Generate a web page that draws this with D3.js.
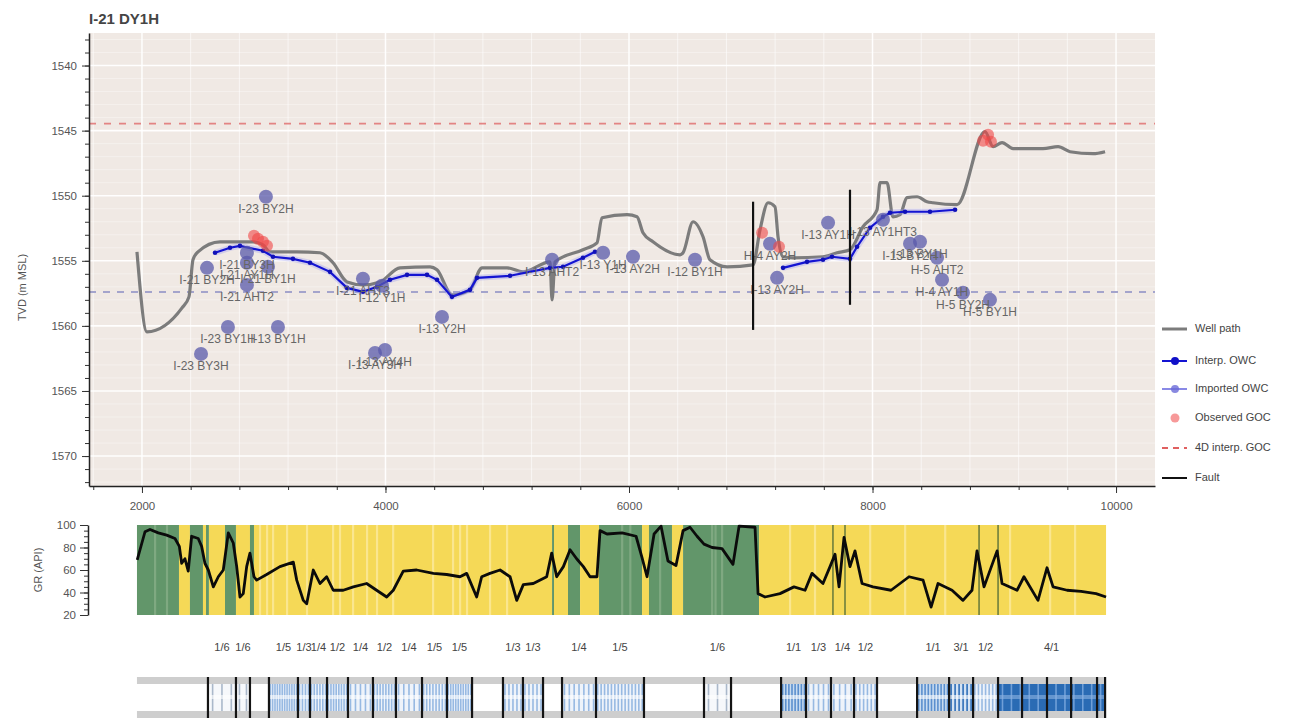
<!DOCTYPE html>
<html>
<head>
<meta charset="UTF-8">
<title>I-21 DY1H</title>
<script src="https://d3js.org/d3.v7.min.js"></script>
<style>
  body { margin: 0; background: #fff; font-family: "Liberation Sans", Arial, sans-serif; }
  svg { display: block; }
  .axis text { fill: #555; font-size: 11.5px; font-family: "Liberation Sans", Arial, sans-serif; }
  .axis line { stroke: #333; }
  .axis path { stroke: #222; stroke-width: 1.5; }
</style>
</head>
<body>
<svg id="chart" width="1294" height="718"></svg>
<script>
// ---- well path (MD vs TVD) ----
const wellMd = [1959,2041,2329,2386,2419,2460,2641,2912,2994,3051,3273,3462,3569,3684,3815,3955,4119,4366,4423,4546,
  4694,4793,4998,5129,5351,5368,5392,5622,5737,5778,5984,6066,6115,6197,6419,6444,6526,6608,6665,6805,
  7019,7076,7142,7199,7224,7265,7347,7593,7708,7815,7922,8037,8062,8119,8168,8226,8283,8366,8448,8497,
  8694,8924,8990,9064,9154,9400,9524,9622,9811,9910];
const wellTvd = [1554.31,1560.46,1558.62,1557.77,1554.92,1554.31,1553.54,1553.54,1553.77,1554.31,1554.31,1554.38,1555.15,1556.62,1556.85,1556.62,1555.54,1555.46,1555.69,1557.62,
  1557.23,1555.54,1555.54,1555.85,1555.08,1558.0,1555.08,1554.15,1553.62,1551.69,1551.46,1551.62,1552.85,1553.54,1554.54,1554.38,1552.0,1553.15,1554.92,1555.46,
  1555.31,1552.62,1550.54,1550.85,1553.15,1554.69,1554.77,1554.69,1554.38,1554.15,1552.38,1551.08,1549.0,1549.0,1551.62,1551.46,1550.15,1550.08,1550.46,1550.54,
  1550.69,1545.08,1546.23,1545.92,1546.38,1546.38,1546.23,1546.62,1546.77,1546.62];

// ---- interpreted OWC, two pieces (either side of the faults) ----
const owcMdA = [2600,2723,2805,2994,3076,3240,3380,3544,3684,3815,3930,4037,4177,4341,4423,4546,4694,4752,5023,5351,5458,5622,5721];
const owcTvdA = [1554.38,1554.0,1553.85,1554.23,1554.69,1554.85,1555.15,1555.85,1557.08,1557.38,1557.0,1556.46,1556.08,1556.08,1556.46,1557.77,1557.23,1556.31,1556.15,1555.54,1555.46,1554.77,1554.31];
const owcMdB = [7265,7462,7593,7667,7815,7873,7980,8086,8144,8267,8472,8678];
const owcTvdB = [1555.54,1555.08,1554.92,1554.69,1554.85,1553.92,1552.46,1551.62,1551.31,1551.23,1551.23,1551.08];

// ---- observed GOC ----
const gocMd = [2920,2953,2994,3027,7093,7232,8908,8949,8973];
const gocTvd = [1553.08,1553.31,1553.54,1553.85,1552.85,1553.92,1545.77,1545.31,1545.85];

// ---- imported OWC from offset wells ----
const wellNames = ["I-23 BY2H","I-21 BY2H","I-21 BY3H","I-21 AY1H","I-21 BY1H","I-21 AHT2","I-23 BY1H","I-13 BY1H","I-23 BY3H","I-13 AY3H",
  "I-13 AY4H","I-21 AHT3","I-12 Y1H","I-13 Y2H","I-13 AHT2","I-13 Y1H","I-13 AY2H","I-12 BY1H","H-4 AY2H","I-13 AY2H",
  "I-13 AY1H","I-13 AY1HT3","I-13 BY2H","I-13 BY1H","H-5 AHT2","H-4 AY1H","H-5 BY2H","H-5 BY1H"];
const wellPtMd = [3018,2534,2862,2862,3035,2862,2706,3117,2485,3914,3996,3815,3971,4464,5368,5787,6033,6542,7158,7216,7635,8086,8308,8390,8530,8571,8743,8965];
const wellPtTvd = [1550.08,1555.54,1554.38,1555.15,1555.46,1556.85,1560.08,1560.08,1562.15,1562.08,1561.85,1556.38,1556.92,1559.31,1554.92,1554.38,1554.69,1554.92,1553.69,1556.31,
  1552.08,1551.85,1553.69,1553.54,1554.77,1556.46,1557.46,1558.0];

// ---- faults and flat contacts ----
const faultMd = [7019, 7815];
const faultTop = [1550.46, 1549.54];
const faultBase = [1560.31, 1558.38];
const goc4d = 1544.46;
const owcRef = 1557.4;

// ---- gamma ray log ----
const grMd = [1961,1984,2025,2066,2134,2203,2271,2307,2326,2353,2380,2408,2462,2490,2517,2545,2586,2627,2668,2709,
  2750,2778,2805,2832,2860,2887,2920,2942,3024,3133,3243,3271,3325,3353,3407,3462,3517,3571,3653,3736,
  3845,3927,4010,4064,4146,4256,4393,4503,4612,4667,4749,4790,4858,4941,5023,5078,5132,5214,5324,5365,
  5406,5461,5516,5570,5625,5680,5737,5762,5819,5943,6058,6107,6148,6206,6263,6320,6386,6444,6501,6559,
  6616,6682,6764,6854,6904,7035,7060,7117,7240,7355,7446,7503,7593,7651,7692,7725,7766,7815,7856,7914,
  8004,8152,8300,8415,8481,8538,8653,8743,8817,8858,8916,9023,9064,9187,9244,9359,9433,9483,9598,9713,9836,9918];
const grVal = [69,78,94,96,93,91,88,81,66,70,59,90,88,81,66,60,45,54,60,93,
  84,63,36,39,63,75,54,51,56,63,67,51,33,30,60,48,54,42,42,45,
  48,42,36,42,59,60,57,56,54,57,36,54,57,60,54,33,47,48,54,75,
  54,63,78,70,63,54,54,95,92,93,90,71,54,92,99,68,64,95,98,90,
  83,80,79,65,99,98,39,36,39,45,42,57,48,63,74,45,89,63,77,48,
  45,42,54,51,27,48,42,33,42,77,45,77,48,42,54,33,62,45,42,41,39,36];

// ---- facies bands behind the GR log (G = shale, Y = sand) ----
const faciesTop = [1959,2304,2394,2501,2526,2550,2682,2772,2887,2920,5368,5384,5499,5598,5754,6107,6164,6353,6444,7068];
const faciesBase = [2304,2394,2501,2526,2550,2682,2772,2887,2920,5368,5384,5499,5598,5754,6107,6164,6353,6444,7068,9918];
const faciesCode = ["G","Y","G","Y","G","Y","G","Y","G","Y","G","Y","G","Y","G","Y","G","Y","G","Y"];
const sandStreaks = [2969,3027,3076,3191,3355,3569,3626,3733,3848,3930,4062,4390,4554,4612,4669,4858,4998,7322,7527,7980,8267,8596,9129,9458,9663];
const shaleStreaks = [2107,2205,5943,6010,6255,6682,6710,6764];
const thinBeds = [7675,7774,8875,9031];

// ---- completion strip ----
const segStart = [2542,2772,3043,3281,3380,3520,3692,3897,4086,4300,4505,4965,5129,5450,5729,6616,7249,7454,7659,7848,8366,8629,8826,9031];
const segEnd = [2772,2887,3281,3380,3520,3692,3897,4086,4300,4505,4711,5129,5294,5729,6123,6838,7454,7659,7848,8037,8629,8826,9031,9910];
const segLabel = ["1/6","1/6","1/5","1/3","1/4","1/2","1/4","1/2","1/4","1/5","1/5","1/3","1/3","1/4","1/5","1/6","1/1","1/3","1/4","1/2","1/1","3/1","1/2","4/1"];
const segStripes = [3,2,12,4,6,8,5,8,5,8,10,5,5,7,14,3,8,5,4,6,10,6,7,12];
const innerBreaks = [9228,9433,9631,9844];
const stripFrom = 1959, stripTo = 9910;

// ================================================================
const svg = d3.select("#chart");
const plot = { left: 89, right: 1155, top: 33, bottom: 486 };

const x = d3.scaleLinear().domain([1565, 10320]).range([plot.left, plot.right]);
const y = d3.scaleLinear().domain([1537.5, 1572.3]).range([plot.top, plot.bottom]);

svg.append("text").attr("x", 89).attr("y", 24)
  .attr("font-size", 15).attr("font-weight", "bold").attr("fill", "#454545")
  .text("I-21 DY1H");

svg.append("rect")
  .attr("x", plot.left).attr("y", plot.top)
  .attr("width", plot.right - plot.left).attr("height", plot.bottom - plot.top)
  .attr("fill", "#f0e9e4");

// grid
svg.append("g").selectAll("line").data(d3.range(1538, 1573)).join("line")
  .attr("x1", plot.left).attr("x2", plot.right)
  .attr("y1", d => y(d)).attr("y2", d => y(d))
  .attr("stroke", "#fff")
  .attr("stroke-width", d => d % 5 === 0 ? 1.6 : 0.8)
  .attr("stroke-opacity", d => d % 5 === 0 ? 0.95 : 0.45);

svg.append("g").selectAll("line").data(d3.range(1600, 10321, 400)).join("line")
  .attr("x1", d => x(d)).attr("x2", d => x(d))
  .attr("y1", plot.top).attr("y2", plot.bottom)
  .attr("stroke", "#fff")
  .attr("stroke-width", d => d % 2000 === 0 ? 1.5 : 1)
  .attr("stroke-opacity", d => d % 2000 === 0 ? 0.95 : 0.6);

// flat contacts
svg.append("line")
  .attr("x1", plot.left).attr("x2", plot.right).attr("y1", y(goc4d)).attr("y2", y(goc4d))
  .attr("stroke", "#e07272").attr("stroke-width", 1.6).attr("stroke-dasharray", "7,8").attr("stroke-opacity", 0.85);
svg.append("line")
  .attr("x1", plot.left).attr("x2", plot.right).attr("y1", y(owcRef)).attr("y2", y(owcRef))
  .attr("stroke", "#a4a4cc").attr("stroke-width", 2).attr("stroke-dasharray", "7,7");

// well path
const wellPts = wellMd.map((d, i) => [d, wellTvd[i]]);
const line = d3.line().x(d => x(d[0])).y(d => y(d[1]));
svg.append("path").datum(wellPts)
  .attr("d", line.curve(d3.curveMonotoneX))
  .attr("fill", "none").attr("stroke", "#7c7c7c").attr("stroke-width", 3.2)
  .attr("stroke-linejoin", "round");

// interpreted OWC with its imported halo
const owcLines = [owcMdA.map((d, i) => [d, owcTvdA[i]]), owcMdB.map((d, i) => [d, owcTvdB[i]])];
const lin = d3.line().x(d => x(d[0])).y(d => y(d[1]));
svg.append("g").selectAll("path").data(owcLines).join("path")
  .attr("d", lin).attr("fill", "none")
  .attr("stroke", "#9a9af0").attr("stroke-width", 6).attr("stroke-opacity", 0.35);
svg.append("g").selectAll("path").data(owcLines).join("path")
  .attr("d", lin).attr("fill", "none")
  .attr("stroke", "#1414d2").attr("stroke-width", 2.2);
svg.append("g").selectAll("circle").data(owcLines.flat()).join("circle")
  .attr("cx", d => x(d[0])).attr("cy", d => y(d[1])).attr("r", 2.3)
  .attr("fill", "#1010b8");

// offset well points
const wells = wellNames.map((n, i) => ({ name: n, md: wellPtMd[i], tvd: wellPtTvd[i] }));
svg.append("g").selectAll("circle").data(wells).join("circle")
  .attr("cx", d => x(d.md)).attr("cy", d => y(d.tvd)).attr("r", 7)
  .attr("fill", "#5a5aab").attr("fill-opacity", 0.75);
svg.append("g").selectAll("text").data(wells).join("text")
  .attr("x", d => x(d.md)).attr("y", d => y(d.tvd) + 13)
  .attr("text-anchor", "middle").attr("dominant-baseline", "middle")
  .attr("font-size", 12).attr("fill", "#666")
  .text(d => d.name);

// observed GOC
svg.append("g").selectAll("circle").data(gocMd.map((d, i) => [d, gocTvd[i]])).join("circle")
  .attr("cx", d => x(d[0])).attr("cy", d => y(d[1])).attr("r", 6)
  .attr("fill", "#f04646").attr("fill-opacity", 0.6);

// faults
svg.append("g").selectAll("line").data(faultMd.map((d, i) => [d, faultTop[i], faultBase[i]])).join("line")
  .attr("x1", d => x(d[0])).attr("x2", d => x(d[0]))
  .attr("y1", d => y(d[1])).attr("y2", d => y(d[2]))
  .attr("stroke", "#111").attr("stroke-width", 2.2);

// axes of main panel
function styleAxis(g) { g.attr("class", "axis"); }
svg.append("g").attr("transform", `translate(${plot.left},0)`)
  .call(d3.axisLeft(y).tickValues(d3.range(1538, 1573)).tickSize(4).tickSizeOuter(0).tickFormat(""))
  .call(styleAxis).call(g => g.select(".domain").remove());
svg.append("g").attr("transform", `translate(${plot.left},0)`)
  .call(d3.axisLeft(y).tickValues(d3.range(1540, 1571, 5)).tickSize(7).tickSizeOuter(0).tickPadding(5).tickFormat(d3.format("d")))
  .call(styleAxis);
svg.append("g").attr("transform", `translate(0,${plot.bottom})`)
  .call(d3.axisBottom(x).tickValues(d3.range(1600, 10321, 400)).tickSize(4).tickSizeOuter(0).tickFormat(""))
  .call(styleAxis).call(g => g.select(".domain").remove());
svg.append("g").attr("transform", `translate(0,${plot.bottom})`)
  .call(d3.axisBottom(x).tickValues([2000, 4000, 6000, 8000, 10000]).tickSize(7).tickSizeOuter(0).tickPadding(9).tickFormat(d3.format("d")))
  .call(styleAxis);

svg.append("text")
  .attr("transform", `translate(26,${(plot.top + plot.bottom) / 2 + 28}) rotate(-90)`)
  .attr("text-anchor", "middle").attr("font-size", 11).attr("fill", "#555")
  .text("TVD (m MSL)");

// legend
const legendY = [329, 361, 389, 418, 448, 478];
const legendText = ["Well path", "Interp. OWC", "Imported OWC", "Observed GOC", "4D interp. GOC", "Fault"];
const lg = svg.append("g");
lg.append("line").attr("x1", 1162).attr("x2", 1187).attr("y1", legendY[0]).attr("y2", legendY[0])
  .attr("stroke", "#7c7c7c").attr("stroke-width", 3);
lg.append("line").attr("x1", 1162).attr("x2", 1187).attr("y1", legendY[1]).attr("y2", legendY[1])
  .attr("stroke", "#1414d2").attr("stroke-width", 2);
lg.append("circle").attr("cx", 1175).attr("cy", legendY[1]).attr("r", 4).attr("fill", "#1010c8");
lg.append("line").attr("x1", 1162).attr("x2", 1187).attr("y1", legendY[2]).attr("y2", legendY[2])
  .attr("stroke", "#6c6ce0").attr("stroke-width", 2).attr("stroke-opacity", 0.8);
lg.append("circle").attr("cx", 1175).attr("cy", legendY[2]).attr("r", 4).attr("fill", "#6c6cd8").attr("fill-opacity", 0.8);
lg.append("circle").attr("cx", 1175).attr("cy", legendY[3]).attr("r", 4.5).attr("fill", "#f04646").attr("fill-opacity", 0.55);
lg.append("line").attr("x1", 1162).attr("x2", 1187).attr("y1", legendY[4]).attr("y2", legendY[4])
  .attr("stroke", "#e06060").attr("stroke-width", 2).attr("stroke-dasharray", "6,5");
lg.append("line").attr("x1", 1162).attr("x2", 1187).attr("y1", legendY[5]).attr("y2", legendY[5])
  .attr("stroke", "#111").attr("stroke-width", 2);
lg.selectAll("text").data(legendText).join("text")
  .attr("x", 1195).attr("y", (d, i) => legendY[i]).attr("dominant-baseline", "middle")
  .attr("font-size", 11).attr("fill", "#444").text(d => d);

// ================= GR panel =================
const grTop = 525, grBottom = 615;
const gy = d3.scaleLinear().domain([20, 100]).range([grBottom, grTop]);
const faciesColor = { G: "#62966a", Y: "#f5d957" };

svg.append("g").selectAll("rect").data(faciesTop.map((d, i) => [d, faciesBase[i], faciesCode[i]])).join("rect")
  .attr("x", d => x(d[0])).attr("width", d => x(d[1]) - x(d[0]))
  .attr("y", grTop).attr("height", grBottom - grTop)
  .attr("fill", d => faciesColor[d[2]]);
svg.append("g").selectAll("rect").data(sandStreaks).join("rect")
  .attr("x", d => x(d) - 1).attr("width", 2.2).attr("y", grTop).attr("height", grBottom - grTop)
  .attr("fill", "#fbeaa2").attr("fill-opacity", 0.75);
svg.append("g").selectAll("rect").data(shaleStreaks).join("rect")
  .attr("x", d => x(d) - 1).attr("width", 2.2).attr("y", grTop).attr("height", grBottom - grTop)
  .attr("fill", "#8cb08c").attr("fill-opacity", 0.7);
svg.append("g").selectAll("rect").data(thinBeds).join("rect")
  .attr("x", d => x(d) - 0.8).attr("width", 1.6).attr("y", grTop).attr("height", grBottom - grTop)
  .attr("fill", "#6f7f3c");

svg.append("path").datum(grMd.map((d, i) => [d, grVal[i]]))
  .attr("d", d3.line().x(d => x(d[0])).y(d => gy(d[1])))
  .attr("fill", "none").attr("stroke", "#0b0b0b").attr("stroke-width", 2.8)
  .attr("stroke-linejoin", "round");

svg.append("g").attr("transform", "translate(88,0)")
  .call(d3.axisLeft(gy).tickValues(d3.range(20, 101, 5)).tickSize(4).tickSizeOuter(0).tickFormat(""))
  .call(styleAxis).call(g => g.select(".domain").remove());
svg.append("g").attr("transform", "translate(88,0)")
  .call(d3.axisLeft(gy).tickValues([20, 40, 60, 80, 100]).tickSize(8).tickSizeOuter(0).tickPadding(4))
  .call(styleAxis);
svg.append("text")
  .attr("transform", `translate(42,${(grTop + grBottom) / 2}) rotate(-90)`)
  .attr("text-anchor", "middle").attr("font-size", 11).attr("fill", "#555")
  .text("GR (API)");

// ================= completion strip =================
const sTop = 677, sBottom = 718, bandH = 7, midY = 697;
const segs = segStart.map((d, i) => {
  const [a, b] = segLabel[i].split("/").map(Number);
  return { s: d, e: segEnd[i], label: segLabel[i], n: segStripes[i], v: a / b };
});
const segBg = v => v >= 4 ? "#2a6bb4" : v >= 3 ? "#d3e2f3" : v >= 1 ? "#c7dbf0" : v <= 1 / 6 ? "#f6f8fb" : "#eef3fa";
const segInk = v => v >= 4 ? "#6f9fd8" : v >= 3 ? "#2f6fb8" : v >= 1 ? "#5b8fce" : v <= 1 / 6 ? "#aab8ca" : "#97b9e2";

svg.append("rect").attr("x", x(stripFrom)).attr("width", x(stripTo) - x(stripFrom))
  .attr("y", sTop).attr("height", sBottom - sTop).attr("fill", "#fff");
svg.append("g").selectAll("rect").data(segs).join("rect")
  .attr("x", d => x(d.s)).attr("width", d => x(d.e) - x(d.s))
  .attr("y", sTop + bandH).attr("height", sBottom - sTop - 2 * bandH)
  .attr("fill", d => segBg(d.v));
svg.append("g").selectAll("line")
  .data(segs.flatMap(d => d3.range(d.n).map(k => ({ md: d.s + (k + 0.5) * (d.e - d.s) / d.n, v: d.v }))))
  .join("line")
  .attr("x1", d => x(d.md)).attr("x2", d => x(d.md))
  .attr("y1", sTop + bandH).attr("y2", sBottom - bandH)
  .attr("stroke", d => segInk(d.v)).attr("stroke-width", 1.6);
svg.append("g").selectAll("rect").data(segs).join("rect")
  .attr("x", d => x(d.s)).attr("width", d => x(d.e) - x(d.s))
  .attr("y", midY - 2).attr("height", 4)
  .attr("fill", d => d.v >= 4 ? "#8db3e1" : "#fff").attr("fill-opacity", 0.6);
svg.append("rect").attr("x", x(stripFrom)).attr("width", x(stripTo) - x(stripFrom))
  .attr("y", sTop).attr("height", bandH).attr("fill", "#c9c9c9").attr("fill-opacity", 0.9);
svg.append("rect").attr("x", x(stripFrom)).attr("width", x(stripTo) - x(stripFrom))
  .attr("y", sBottom - bandH).attr("height", bandH).attr("fill", "#c9c9c9").attr("fill-opacity", 0.9);

const breaks = Array.from(new Set(segStart.concat(segEnd, innerBreaks)));
svg.append("g").selectAll("line").data(breaks).join("line")
  .attr("x1", d => x(d)).attr("x2", d => x(d))
  .attr("y1", sTop).attr("y2", sBottom)
  .attr("stroke", "#141414").attr("stroke-width", 2.2);

svg.append("g").selectAll("text").data(segs).join("text")
  .attr("x", d => x((d.s + d.e) / 2)).attr("y", 648)
  .attr("text-anchor", "middle").attr("dominant-baseline", "middle")
  .attr("font-size", 11).attr("fill", "#444")
  .text(d => d.label);
</script>
</body>
</html>
